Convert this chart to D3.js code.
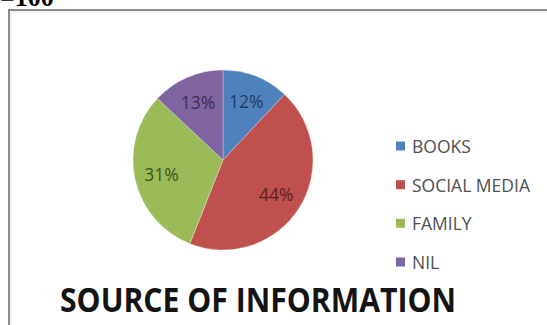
<!DOCTYPE html>
<html>
<head>
<meta charset="utf-8">
<script src="https://cdn.jsdelivr.net/npm/d3@7"></script>
<style>
  html, body { margin: 0; padding: 0; background: #fff; }
  svg { display: block; }
</style>
</head>
<body>
<svg id="chart" width="547" height="325"></svg>
<script>
// Pie of where respondents get their information
const categories = ["BOOKS", "SOCIAL MEDIA", "FAMILY", "NIL"];
const shares = [12, 44, 31, 13];
const sliceColors = ["#4F81BD", "#C0504D", "#9BBB59", "#8064A2"];
const labelColors = ["#1F3D63", "#5E1E1C", "#3E5220", "#3B2C52"];
const chartTitle = "SOURCE OF INFORMATION";
const headerText = "=100";

const svg = d3.select("#chart");
const W = 547, H = 325;

// Text from the page above the chart frame
svg.append("text")
  .attr("x", 0).attr("y", 6)
  .attr("font-family", "Liberation Serif, DejaVu Serif, serif")
  .attr("font-weight", "bold")
  .attr("font-size", 26)
  .attr("fill", "#000")
  .text(headerText);

// Chart frame
svg.append("rect")
  .attr("x", 9).attr("y", 10)
  .attr("width", W + 10).attr("height", H + 10)
  .attr("fill", "#fff")
  .attr("stroke", "#8a8a8a")
  .attr("stroke-width", 2);
svg.append("rect")
  .attr("x", 11).attr("y", 12)
  .attr("width", W + 10).attr("height", H + 10)
  .attr("fill", "none")
  .attr("stroke", "#e4e4e4")
  .attr("stroke-width", 1);

// Pie
const cx = 223, cy = 160, R = 90, labelR = 63;
const pie = d3.pie().sort(null).value(d => d).startAngle(0).endAngle(2 * Math.PI);
const arcs = pie(shares);
const arc = d3.arc().innerRadius(0).outerRadius(R);
const labelArc = d3.arc().innerRadius(labelR).outerRadius(labelR);

const g = svg.append("g").attr("transform", `translate(${cx},${cy})`);
g.selectAll("path.slice")
  .data(arcs)
  .join("path")
  .attr("class", "slice")
  .attr("d", arc)
  .attr("fill", (d, i) => sliceColors[i])
  .attr("stroke", "rgba(255,255,255,0.35)")
  .attr("stroke-width", 0.8);

g.selectAll("text.pct")
  .data(arcs)
  .join("text")
  .attr("class", "pct")
  .attr("transform", d => `translate(${labelArc.centroid(d)})`)
  .attr("text-anchor", "middle")
  .attr("dominant-baseline", "central")
  .attr("font-family", "Open Sans, sans-serif")
  .attr("font-size", 17.5)
  .attr("fill", (d, i) => labelColors[i])
  .text(d => `${d.data}%`);

// Legend
const legendY = d3.scalePoint().domain(categories).range([146, 262]);
const legend = svg.append("g");
const items = legend.selectAll("g.item")
  .data(categories)
  .join("g")
  .attr("class", "item")
  .attr("transform", d => `translate(396,${legendY(d)})`);
items.append("rect")
  .attr("x", 0).attr("y", -4.5)
  .attr("width", 9).attr("height", 9)
  .attr("fill", (d, i) => sliceColors[i]);
items.append("text")
  .attr("x", 16).attr("y", 0)
  .attr("dominant-baseline", "central")
  .attr("font-family", "Open Sans, sans-serif")
  .attr("font-size", 17.5)
  .attr("fill", "#505050")
  .text(d => d);

// Title
svg.append("text")
  .attr("x", 60).attr("y", 312)
  .attr("textLength", 396)
  .attr("lengthAdjust", "spacingAndGlyphs")
  .attr("font-family", "Open Sans, sans-serif")
  .attr("font-weight", "bold")
  .attr("font-size", 34)
  .attr("fill", "#141414")
  .text(chartTitle);
</script>
</body>
</html>
